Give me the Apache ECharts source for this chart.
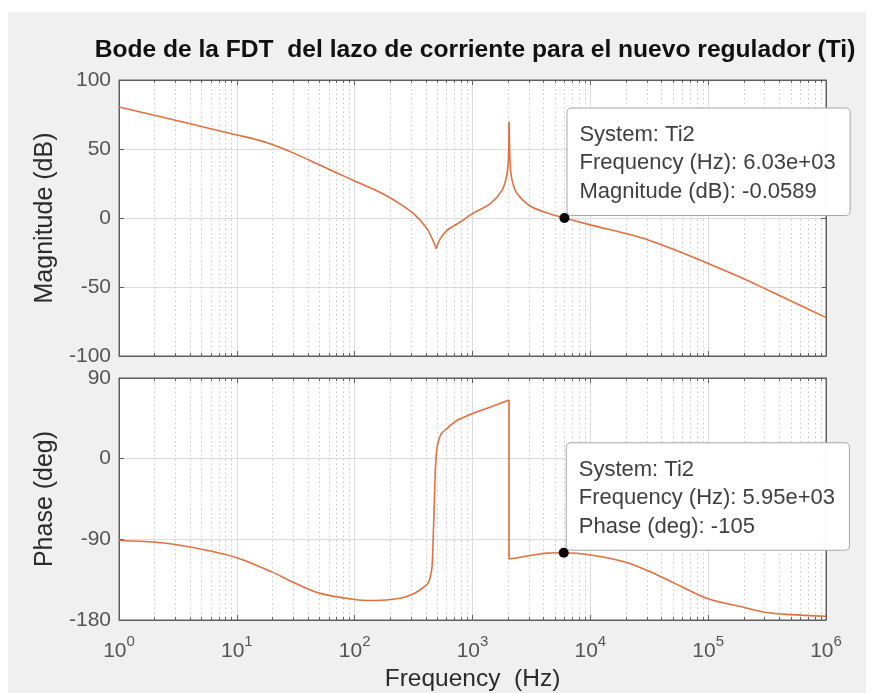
<!DOCTYPE html>
<html>
<head>
<meta charset="utf-8">
<script src="https://cdn.jsdelivr.net/npm/echarts@6/dist/echarts.min.js"></script>
<style>
  html, body { margin: 0; padding: 0; background: #ffffff; }
  #chart { width: 874px; height: 693px; }
</style>
</head>
<body>
<div id="chart"></div>
<script>
// Magnitude response (Hz, dB)
const FREQ_MAG = [1, 2, 3, 5, 10, 15, 20, 30, 50, 70, 100, 165, 229, 316, 411, 468, 493,
  533, 608, 789, 1000, 1419, 1778, 1941, 2010, 2047,
  2085, 2168, 2392, 3105, 4305, 6030, 10000, 20000, 30470, 50000, 100000, 200000, 300000, 500000, 1000000];
const MAG_DB = [80.4, 74.4, 70.9, 66.3, 60.2, 56.6, 53.2, 47.2, 38.6, 32.8, 26.8, 18.5, 11.6, 3.2, -7.7, -17.4, -22.2,
  -15, -8.9, -2.9, 3.2, 10.4, 20, 29.7, 40, 69.6,
  40, 27.3, 17.7, 8.5, 3.6, -0.0589, -5, -11.3, -15.7, -22.5, -33, -44, -51, -60, -72.2];
// Frequencies where the magnitude curve has a cusp (anti-resonance notch, resonance peak)
const MAG_CUSPS = [493, 2047];

// Phase response (Hz, deg)
const FREQ_PH = [1, 2, 3, 5, 10, 20, 30, 50, 100, 145, 244, 316, 385, 424, 445, 455, 465, 475, 485, 500, 520, 545, 600, 741,
  1000, 1419, 2040, 2041, 3105, 4305, 5950, 10000, 20000, 30470, 50000, 100000, 200000, 300000, 500000, 1000000];
const PHASE_DEG = [-91.3, -93, -95.7, -101, -110.6, -126.6, -137.8, -150, -157.2, -158.3, -155.7, -150.8, -143.4, -138, -128, -118, -85, -45, -10, 12, 22, 28, 33, 42.8,
  50.3, 57.7, 65.5, -112, -108, -105.4, -105, -107.5, -115.5, -124.8, -138, -156.4, -165.7, -171.3, -174, -175.8];
// Frequencies bounding the phase wrap (vertical drop)
const PH_CUSPS = [2040, 2041];

// Data tips: [frequency (Hz), value]
const MAG_TIP = [6030, -0.0589];
const PH_TIP = [5950, -105];
const SYSTEM_NAME = 'Ti2';

// Axis ranges and tick steps
const FREQ_RANGE = [1, 1000000];
const MAG_RANGE = [-100, 100];
const MAG_STEP = 50;
const PH_RANGE = [-180, 90];
const PH_STEP = 90;

// Minor log grid: multiples 2..9 within each decade
const MINOR_MULT = [2, 3, 4, 5, 6, 7, 8, 9];
const DECADES = [1, 10, 100, 1000, 10000, 100000];

const FONT = 'Liberation Sans, Arial, Helvetica, sans-serif';
const LINE_COLOR = '#e2703f';
const BOX_COLOR = '#5f5f5f';
const TICK_TEXT = '#555555';
const LABEL_TEXT = '#2b2b2b';

const minorFreqs = [];
DECADES.forEach(d => MINOR_MULT.forEach(m => minorFreqs.push([d * m, 0])));

function zip(xs, ys) { return xs.map((x, i) => [x, ys[i]]); }

// Split a curve into pieces at cusp frequencies so each piece is smoothed on its own
function pieces(xs, ys, cusps) {
  const out = [];
  let cur = [];
  zip(xs, ys).forEach(p => {
    cur.push(p);
    if (cusps.includes(p[0])) { out.push(cur); cur = [p]; }
  });
  if (cur.length > 1) out.push(cur);
  return out;
}

function sci(v) {
  const parts = v.toExponential(2).split('e');
  const e = parts[1];
  return parts[0] + 'e' + e[0] + e.slice(1).padStart(2, '0');
}

function minorGrid(params, api) {
  const cs = params.coordSys;
  const x = Math.round(api.coord([api.value(0), api.value(1)])[0]) + 0.5;
  const top = cs.y, bot = cs.y + cs.height;
  return {
    type: 'group',
    children: [
      { type: 'line', shape: { x1: x, y1: top, x2: x, y2: bot },
        style: { stroke: '#c9c9c9', lineWidth: 1, lineDash: [1.5, 3] } },
      { type: 'line', shape: { x1: x, y1: bot, x2: x, y2: bot - 3 },
        style: { stroke: BOX_COLOR, lineWidth: 1 } },
      { type: 'line', shape: { x1: x, y1: top, x2: x, y2: top + 3 },
        style: { stroke: BOX_COLOR, lineWidth: 1 } }
    ]
  };
}

function logAxis(gridIndex, position, showLabels, name) {
  return {
    type: 'log', logBase: 10, gridIndex, position,
    min: FREQ_RANGE[0], max: FREQ_RANGE[1],
    name: name || '', nameLocation: 'middle', nameGap: 47,
    nameTextStyle: { fontFamily: FONT, fontSize: 24.5, color: LABEL_TEXT },
    axisLine: { show: true, onZero: false, lineStyle: { color: BOX_COLOR, width: 1 } },
    axisTick: { show: true, inside: true, length: 5, lineStyle: { color: BOX_COLOR } },
    splitLine: { show: position === 'bottom', lineStyle: { color: '#dcdcdc', width: 1 } },
    minorTick: { show: false },
    axisLabel: {
      show: showLabels, margin: 14, fontFamily: FONT, color: TICK_TEXT,
      formatter: v => '{b|10}{s|' + Math.round(Math.log10(v)) + '}',
      rich: {
        b: { fontFamily: FONT, fontSize: 21, color: TICK_TEXT, lineHeight: 28, verticalAlign: 'bottom' },
        s: { fontFamily: FONT, fontSize: 15, color: TICK_TEXT, lineHeight: 15, verticalAlign: 'top' }
      }
    }
  };
}

function valAxis(gridIndex, position, range, step, showLabels, name) {
  return {
    type: 'value', gridIndex, position,
    min: range[0], max: range[1], interval: step,
    name: name || '', nameLocation: 'middle', nameGap: 60,
    nameTextStyle: { fontFamily: FONT, fontSize: 25, color: LABEL_TEXT },
    axisLine: { show: true, onZero: false, lineStyle: { color: BOX_COLOR, width: 1 } },
    axisTick: { show: true, inside: true, length: 5, lineStyle: { color: BOX_COLOR } },
    splitLine: { show: position === 'left', lineStyle: { color: '#dcdcdc', width: 1 } },
    axisLabel: { show: showLabels, margin: 8, fontFamily: FONT, fontSize: 21, color: TICK_TEXT }
  };
}

function tipLabel(lines) {
  return {
    show: true,
    position: [8, 2],
    align: 'left', verticalAlign: 'bottom',
    formatter: lines.join('\n'),
    fontFamily: FONT, fontSize: 22, lineHeight: 28.5, color: '#404040',
    backgroundColor: 'rgba(255,255,255,0.96)',
    borderColor: '#a8a8a8', borderWidth: 1, borderRadius: 4,
    padding: [12, 14, 9, 12]
  };
}

function curveSeries(name, xIdx, yIdx, segs, tip, tipLines) {
  return segs.map(seg => {
    const s = {
      type: 'line', name, xAxisIndex: xIdx, yAxisIndex: yIdx,
      data: seg, showSymbol: false, smooth: 0.3,
      lineStyle: { color: LINE_COLOR, width: 1.6 }, z: 3
    };
    if (seg[0][0] <= tip[0] && seg[seg.length - 1][0] >= tip[0]) {
      s.markPoint = {
        symbol: 'circle', symbolSize: 10, itemStyle: { color: '#000000' },
        data: [{ coord: tip, value: tip[1] }],
        label: tipLabel(tipLines)
      };
    }
    return s;
  });
}

const chart = echarts.init(document.getElementById('chart'), null, { renderer: 'canvas' });

chart.setOption({
  backgroundColor: '#f0f0f0',
  animation: false,
  title: {
    text: 'Bode de la FDT  del lazo de corriente para el nuevo regulador (Ti)',
    left: 470, top: 33, textAlign: 'center',
    textStyle: { fontFamily: FONT, fontSize: 24.6, fontWeight: 'bold', color: '#111111' }
  },
  graphic: [
    { type: 'rect', shape: { x: 0, y: 0, width: 874, height: 12 }, style: { fill: '#ffffff' }, silent: true },
    { type: 'rect', shape: { x: 0, y: 0, width: 8, height: 693 }, style: { fill: '#ffffff' }, silent: true },
    { type: 'rect', shape: { x: 866, y: 0, width: 8, height: 693 }, style: { fill: '#ffffff' }, silent: true }
  ],
  grid: [
    { left: 119, top: 80, width: 707, height: 276, show: true, backgroundColor: '#ffffff', borderColor: BOX_COLOR, borderWidth: 1 },
    { left: 119, top: 378, width: 707, height: 243, show: true, backgroundColor: '#ffffff', borderColor: BOX_COLOR, borderWidth: 1 }
  ],
  xAxis: [
    logAxis(0, 'bottom', false),
    logAxis(0, 'top', false),
    logAxis(1, 'bottom', true, 'Frequency  (Hz)'),
    logAxis(1, 'top', false)
  ],
  yAxis: [
    valAxis(0, 'left', MAG_RANGE, MAG_STEP, true, 'Magnitude (dB)'),
    valAxis(0, 'right', MAG_RANGE, MAG_STEP, false),
    valAxis(1, 'left', PH_RANGE, PH_STEP, true, 'Phase (deg)'),
    valAxis(1, 'right', PH_RANGE, PH_STEP, false)
  ],
  series: [
    { type: 'custom', xAxisIndex: 0, yAxisIndex: 0, data: minorFreqs, renderItem: minorGrid, silent: true, z: 1 },
    { type: 'custom', xAxisIndex: 2, yAxisIndex: 2, data: minorFreqs, renderItem: minorGrid, silent: true, z: 1 }
  ].concat(
    curveSeries('Magnitude', 0, 0, pieces(FREQ_MAG, MAG_DB, MAG_CUSPS), MAG_TIP,
      ['System: ' + SYSTEM_NAME, 'Frequency (Hz): ' + sci(MAG_TIP[0]), 'Magnitude (dB): ' + MAG_TIP[1]]),
    curveSeries('Phase', 2, 2, pieces(FREQ_PH, PHASE_DEG, PH_CUSPS), PH_TIP,
      ['System: ' + SYSTEM_NAME, 'Frequency (Hz): ' + sci(PH_TIP[0]), 'Phase (deg): ' + PH_TIP[1]])
  )
});
</script>
</body>
</html>
